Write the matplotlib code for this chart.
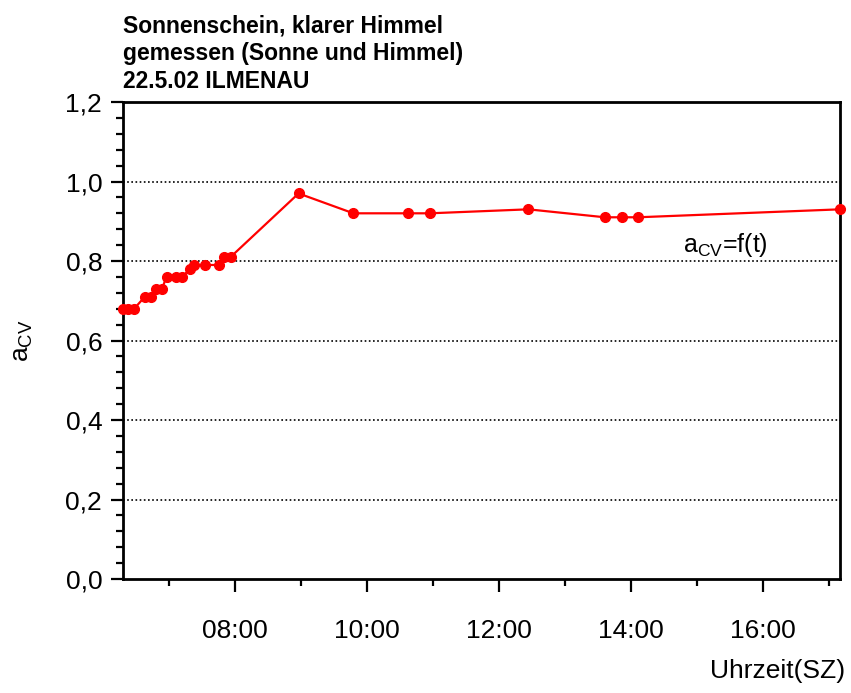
import numpy as np
from matplotlib import pyplot as plt
from matplotlib.ticker import AutoMinorLocator, FixedLocator

plt.rcParams['font.family'] = ['Liberation Sans', 'DejaVu Sans']

# time of day in hours, a_CV values
t_h = [6.31, 6.39, 6.48, 6.64, 6.73, 6.81, 6.90, 6.97, 7.11, 7.20,
       7.33, 7.39, 7.55, 7.76, 7.84, 7.94, 8.97, 9.80, 10.63, 10.96,
       12.45, 13.61, 13.87, 14.11, 17.17]
a_cv = [0.68, 0.68, 0.68, 0.71, 0.71, 0.73, 0.73, 0.76, 0.76, 0.76,
        0.78, 0.79, 0.79, 0.79, 0.81, 0.81, 0.97, 0.92, 0.92, 0.92,
        0.93, 0.91, 0.91, 0.91, 0.93]

xticks = [8, 10, 12, 14, 16]
xticklabels = ['08:00', '10:00', '12:00', '14:00', '16:00']
yticks = [0.0, 0.2, 0.4, 0.6, 0.8, 1.0, 1.2]
yticklabels = ['0,0', '0,2', '0,4', '0,6', '0,8', '1,0', '1,2']

title_lines = ['Sonnenschein, klarer Himmel',
               'gemessen (Sonne und Himmel)',
               '22.5.02 ILMENAU']

fig = plt.figure(figsize=(8.51, 6.93), dpi=100)
ax = fig.add_axes([0.1445, 0.1645, 0.8425, 0.6883])

ax.plot(t_h, a_cv, color='red', lw=1.6, marker='o', ms=7, clip_on=False, zorder=3)

ax.set_xlim(t_h[0], t_h[-1])
ax.set_ylim(0, 1.2)

for g in yticks[1:-1]:
    ax.axhline(g, color='black', lw=1.2, ls=(0, (1, 1.5)), zorder=1)

ax.set_xticks(xticks)
ax.set_xticklabels(xticklabels)
ax.xaxis.set_minor_locator(FixedLocator([7, 9, 11, 13, 15, 17]))
ax.set_yticks(yticks)
ax.set_yticklabels(yticklabels)
ax.yaxis.set_minor_locator(AutoMinorLocator(5))

ax.tick_params(axis='both', which='major', direction='out', length=9, width=1.6,
               labelsize=19, top=False, right=False)
ax.tick_params(axis='both', which='minor', direction='out', length=5, width=1.6,
               top=False, right=False)
ax.tick_params(axis='x', which='major', pad=20)
ax.tick_params(axis='y', which='major', pad=6)

for s in ax.spines.values():
    s.set_linewidth(2)

ax.set_ylabel('a$_{\\mathregular{CV}}$', fontsize=19, labelpad=22)
ax.text(14.8, 0.823, 'a$_{\\mathregular{CV}}$=f(t)', fontsize=18, va='baseline')

fig.text(0.993, 0.022, 'Uhrzeit(SZ)', ha='right', va='baseline', fontsize=19)
for i, line in enumerate(title_lines):
    fig.text(0.1445, 1 - (32 + 28 * i) / 693, line, ha='left', va='baseline',
             fontsize=16.5, fontweight='bold')

fig.savefig('out.png', dpi=100)
